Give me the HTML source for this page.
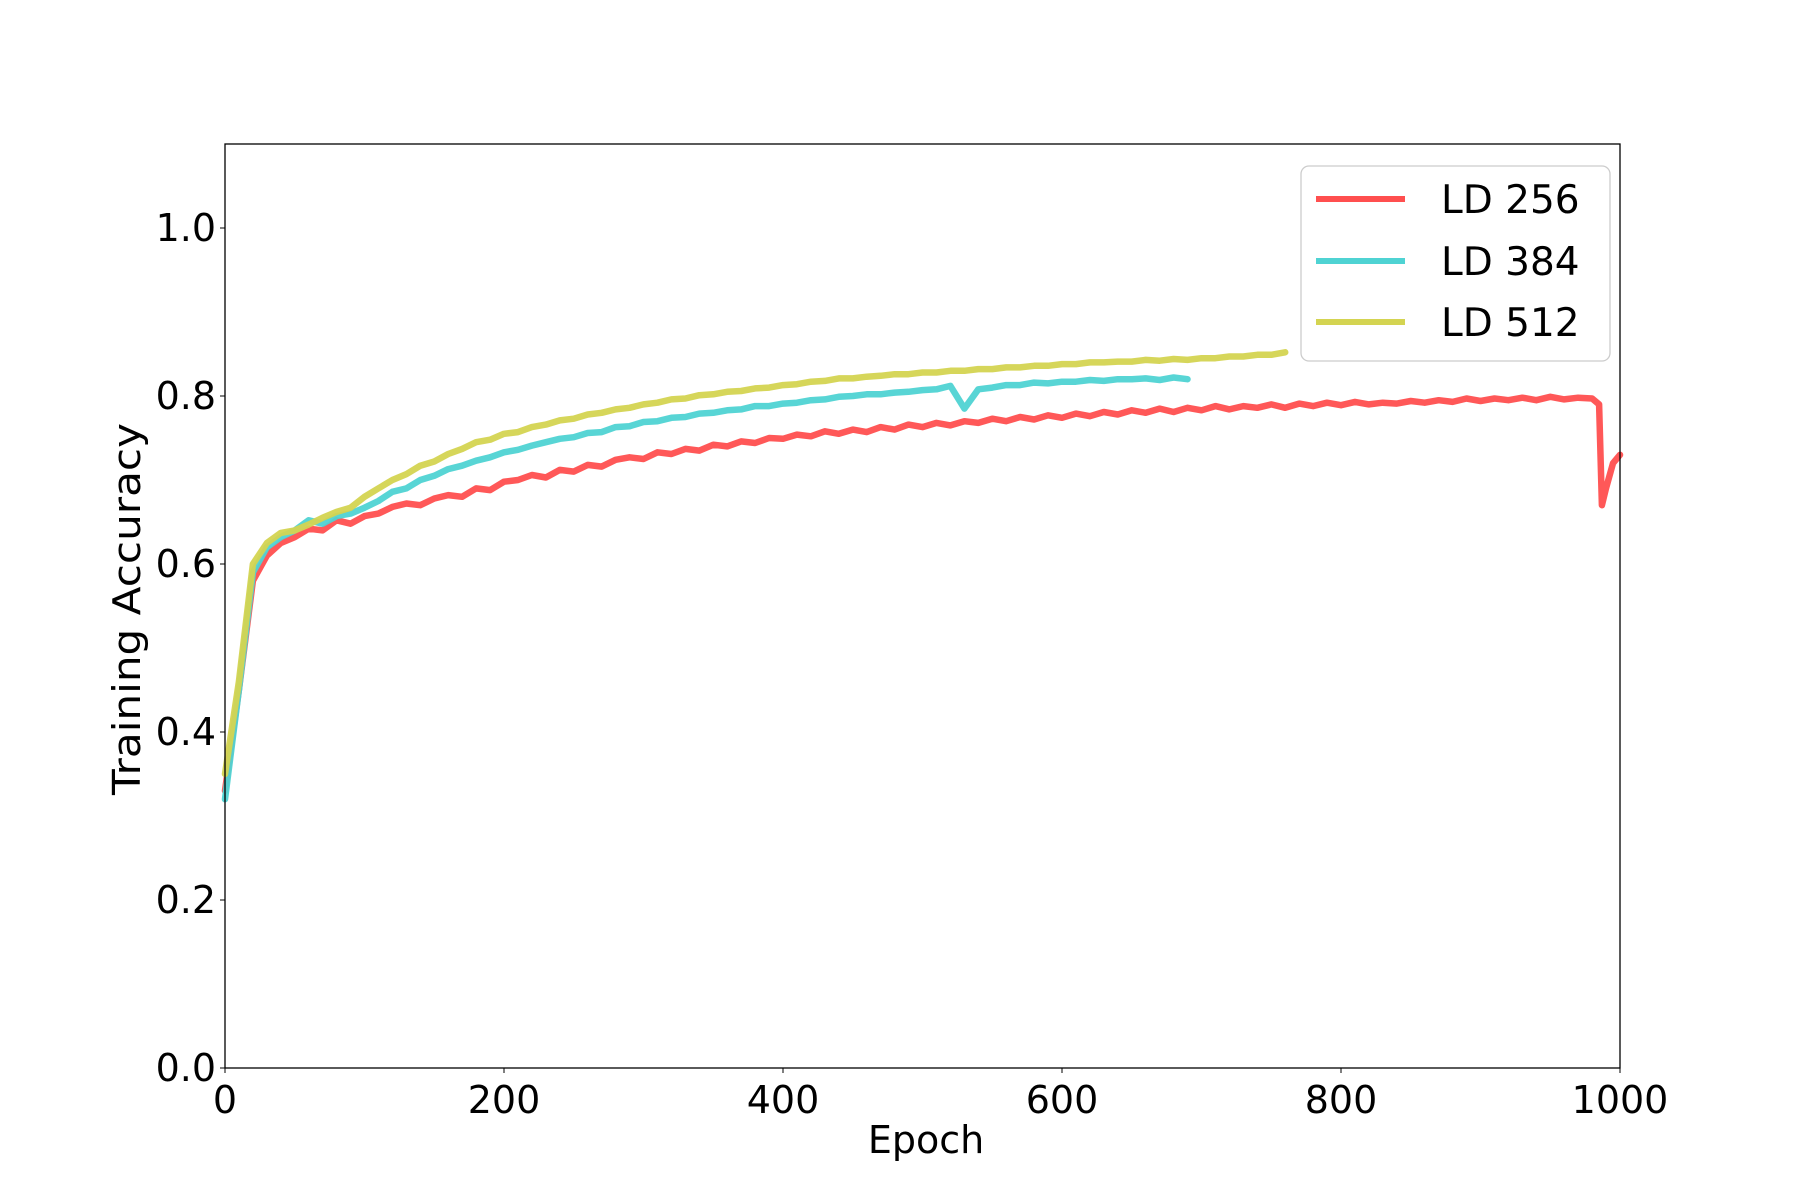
<!DOCTYPE html>
<html><head><meta charset="utf-8"><style>
html,body{margin:0;padding:0;background:#fff}
svg{display:block}
text{font-family:"DejaVu Sans","Liberation Sans",sans-serif;fill:#000}
</style></head><body>
<svg id="chart" width="1800" height="1200" viewBox="0 0 1800 1200">
<rect x="0" y="0" width="1800" height="1200" fill="#fff"/>
<g id="plot"></g>
<rect x="225" y="144" width="1395" height="924" fill="none" stroke="#000" stroke-width="1.3"/>
<g id="ticks"></g>
<text x="926" y="1153" font-size="38" text-anchor="middle">Epoch</text>
<text x="0" y="0" font-size="38" text-anchor="middle" textLength="372" lengthAdjust="spacingAndGlyphs" transform="translate(140,609) rotate(-90)">Training Accuracy</text>
<g>
<rect x="1301" y="166" width="309" height="195" rx="8" fill="#fff" fill-opacity="0.8" stroke="#ccc" stroke-width="1.3"/>
<line x1="1316" y1="199" x2="1405" y2="199" stroke="#ff4f4f" stroke-width="6"/>
<text x="1441" y="213" font-size="39">LD 256</text>
<line x1="1316" y1="261" x2="1405" y2="261" stroke="#4fd3d3" stroke-width="6"/>
<text x="1441" y="275" font-size="39">LD 384</text>
<line x1="1316" y1="322" x2="1405" y2="322" stroke="#d4d451" stroke-width="6"/>
<text x="1441" y="336" font-size="39">LD 512</text>
</g>
</svg>
<script>
const xTicks = [0, 200, 400, 600, 800, 1000];
const yTicks = [0.0, 0.2, 0.4, 0.6, 0.8, 1.0];
const yTickLabels = ["0.0", "0.2", "0.4", "0.6", "0.8", "1.0"];
const redTailEpochs = [985, 987, 990, 995, 1000];
const redValues = [0.33,0.45,0.58,0.61,0.625,0.632,0.642,0.640,0.652,0.648,0.657,0.660,0.668,0.672,0.670,0.678,0.682,0.680,0.690,0.688,0.698,0.700,0.706,0.703,0.712,0.710,0.718,0.716,0.724,0.727,0.725,0.733,0.731,0.737,0.735,0.742,0.740,0.746,0.744,0.750,0.749,0.754,0.752,0.758,0.755,0.760,0.757,0.763,0.760,0.766,0.763,0.768,0.765,0.770,0.768,0.773,0.770,0.775,0.772,0.777,0.774,0.779,0.776,0.781,0.778,0.783,0.780,0.785,0.781,0.786,0.783,0.788,0.784,0.788,0.786,0.790,0.786,0.791,0.788,0.792,0.789,0.793,0.790,0.792,0.791,0.794,0.792,0.795,0.793,0.797,0.794,0.797,0.795,0.798,0.795,0.799,0.796,0.798,0.797,0.79,0.67,0.69,0.72,0.73];
const cyanValues = [0.32,0.45,0.59,0.62,0.632,0.640,0.652,0.648,0.657,0.660,0.667,0.675,0.686,0.690,0.700,0.705,0.713,0.717,0.723,0.727,0.733,0.736,0.741,0.745,0.749,0.751,0.756,0.757,0.763,0.764,0.769,0.770,0.774,0.775,0.779,0.780,0.783,0.784,0.788,0.788,0.791,0.792,0.795,0.796,0.799,0.800,0.802,0.802,0.804,0.805,0.807,0.808,0.812,0.785,0.808,0.810,0.813,0.813,0.816,0.815,0.817,0.817,0.819,0.818,0.820,0.820,0.821,0.819,0.822,0.820];
const yellowValues = [0.35,0.46,0.60,0.625,0.637,0.640,0.647,0.655,0.662,0.667,0.680,0.690,0.700,0.707,0.717,0.722,0.731,0.737,0.745,0.748,0.755,0.757,0.763,0.766,0.771,0.773,0.778,0.780,0.784,0.786,0.790,0.792,0.796,0.797,0.801,0.802,0.805,0.806,0.809,0.810,0.813,0.814,0.817,0.818,0.821,0.821,0.823,0.824,0.826,0.826,0.828,0.828,0.830,0.830,0.832,0.832,0.834,0.834,0.836,0.836,0.838,0.838,0.840,0.840,0.841,0.841,0.843,0.842,0.844,0.843,0.845,0.845,0.847,0.847,0.849,0.849,0.852];
const epochStep = 10;

const X0 = 225, X1 = 1620, Y0 = 1068, Y1 = 144;
function xs(v) { return X0 + (v / 1000) * (X1 - X0); }
function ys(v) { return Y0 - (v / 1.1) * (Y0 - Y1); }
const NS = "http://www.w3.org/2000/svg";
const plot = document.getElementById('plot');
const ticks = document.getElementById('ticks');

function drawSeries(vals, tail, color, name) {
  const pts = [];
  const nMain = vals.length - tail.length;
  for (let i = 0; i < nMain; i++) pts.push([i * epochStep, vals[i]]);
  for (let j = 0; j < tail.length; j++) pts.push([tail[j], vals[nMain + j]]);
  const p = document.createElementNS(NS, 'polyline');
  p.setAttribute('points', pts.map(q => xs(q[0]).toFixed(1) + ',' + ys(q[1]).toFixed(1)).join(' '));
  p.setAttribute('fill', 'none');
  p.setAttribute('stroke', color);
  p.setAttribute('stroke-width', '6.5');
  p.setAttribute('stroke-linejoin', 'round');
  p.setAttribute('stroke-linecap', 'round');
  p.setAttribute('opacity', '0.95');
  
  
  plot.appendChild(p);
}
drawSeries(redValues, redTailEpochs, '#ff4f4f', 'line-ld256');
drawSeries(cyanValues, [], '#4fd3d3', 'line-ld384');
drawSeries(yellowValues, [], '#d4d451', 'line-ld512');

xTicks.forEach(function (t) {
  const l = document.createElementNS(NS, 'line');
  l.setAttribute('x1', xs(t)); l.setAttribute('x2', xs(t));
  l.setAttribute('y1', Y0); l.setAttribute('y2', Y0 + 5);
  l.setAttribute('stroke', '#000');
  
  
  ticks.appendChild(l);
  const tx = document.createElementNS(NS, 'text');
  tx.setAttribute('x', xs(t)); tx.setAttribute('y', 1113);
  tx.setAttribute('font-size', '38'); tx.setAttribute('text-anchor', 'middle');
  tx.textContent = String(t);
  
  
  ticks.appendChild(tx);
});
yTicks.forEach(function (t, i) {
  const l = document.createElementNS(NS, 'line');
  l.setAttribute('x1', X0 - 5); l.setAttribute('x2', X0);
  l.setAttribute('y1', ys(t)); l.setAttribute('y2', ys(t));
  l.setAttribute('stroke', '#000');
  
  
  ticks.appendChild(l);
  const tx = document.createElementNS(NS, 'text');
  tx.setAttribute('x', 216); tx.setAttribute('y', ys(t) + 13);
  tx.setAttribute('font-size', '38'); tx.setAttribute('text-anchor', 'end');
  tx.textContent = yTickLabels[i];
  
  
  ticks.appendChild(tx);
});
</script>
</body></html>
